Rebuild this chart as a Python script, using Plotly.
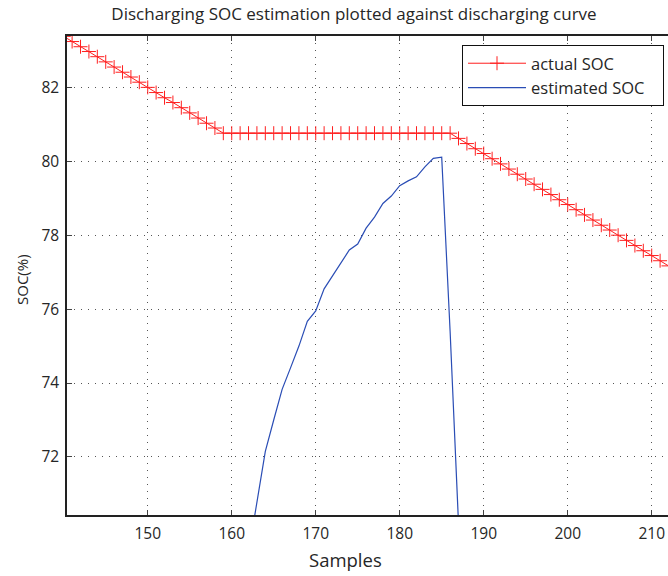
import plotly.graph_objects as go

# ---- data ----
actual_x = list(range(140, 213))
actual_soc = [
    83.38, 83.24, 83.10, 82.97, 82.83, 82.69, 82.55, 82.41, 82.28, 82.14,
    82.00, 81.86, 81.72, 81.59, 81.45, 81.31, 81.17, 81.03, 80.90, 80.76,
    80.76, 80.76, 80.76, 80.76, 80.76, 80.76, 80.76, 80.76, 80.76, 80.76,
    80.76, 80.76, 80.76, 80.76, 80.76, 80.76, 80.76, 80.76, 80.76, 80.76,
    80.76, 80.76, 80.76, 80.76, 80.76, 80.76, 80.76, 80.62, 80.48, 80.34,
    80.21, 80.07, 79.93, 79.79, 79.65, 79.52, 79.38, 79.24, 79.10, 78.96,
    78.83, 78.69, 78.55, 78.41, 78.27, 78.14, 78.00, 77.86, 77.72, 77.58,
    77.45, 77.31, 77.17,
]

est_x = [162, 163, 164, 165, 166, 167, 168, 169, 170, 171, 172, 173, 174,
         175, 176, 177, 178, 179, 180, 181, 182, 183, 184, 185, 186, 187]
est_soc = [69.40, 70.80, 72.15, 73.00, 73.83, 74.41, 75.00, 75.67, 75.95,
           76.55, 76.90, 77.25, 77.60, 77.76, 78.19, 78.49, 78.86, 79.06,
           79.34, 79.47, 79.58, 79.85, 80.08, 80.11, 75.40, 70.20]

x_ticks = [150, 160, 170, 180, 190, 200, 210]
y_ticks = [72, 74, 76, 78, 80, 82]

FONT = "Open Sans"
W, H = 668, 576
L, R, T, B = 67, 0, 36, 61
PAD = "\u00a0\u00a0\u00a0"

fig = go.Figure()
fig.add_trace(go.Scatter(
    x=actual_x, y=actual_soc, mode="lines+markers", name="actual SOC" + PAD,
    line=dict(color="#ff1f1f", width=1),
    marker=dict(symbol="cross-thin", size=10, color="#ff1f1f",
                line=dict(color="#ff1f1f", width=1)),
))
fig.add_trace(go.Scatter(
    x=est_x, y=est_soc, mode="lines", name="estimated SOC" + PAD,
    line=dict(color="#2a4db5", width=1.2),
))

axis_common = dict(
    showline=True, linecolor="#222222", linewidth=1.5,
    ticks="inside", ticklen=5, tickcolor="#444444", tickwidth=1,
    showgrid=True, gridcolor="#555555", gridwidth=1, griddash="1px,6px",
    zeroline=False, tickfont=dict(family=FONT, size=15.5, color="#262626"),
)

fig.update_xaxes(range=[140.39, 211.94], tickvals=x_ticks, mirror="ticks",
                 ticklabelstandoff=4, **axis_common)
fig.update_yaxes(range=[70.43, 83.39], tickvals=y_ticks, mirror=False,
                 ticklabelstandoff=3, **axis_common)

fig.update_layout(
    width=W, height=H,
    margin=dict(l=L, r=R, t=T, b=B, pad=0),
    paper_bgcolor="white", plot_bgcolor="white",
    font=dict(family=FONT, color="#262626"),
    title=dict(text="Discharging SOC estimation plotted against discharging curve",
               x=354 / W, xanchor="center", y=1 - 14 / H, yanchor="middle",
               font=dict(family=FONT, size=17, color="#262626")),
    legend=dict(x=(664 - L) / (W - L - R), xanchor="right",
                y=(H - B - 45) / (H - T - B), yanchor="top",
                bgcolor="white", bordercolor="#111111", borderwidth=1,
                font=dict(family=FONT, size=16.5, color="#262626"),
                itemwidth=58, tracegroupgap=0),
    showlegend=True,
    annotations=[
        dict(text="Samples", xref="paper", yref="paper",
             x=(345 - L) / (W - L - R), y=(H - B - 559) / (H - T - B),
             xanchor="center", yanchor="middle", showarrow=False,
             font=dict(family=FONT, size=18.5, color="#262626")),
        dict(text="SOC(%)", xref="paper", yref="paper",
             x=(22 - L) / (W - L - R), y=(H - B - 280) / (H - T - B),
             xanchor="center", yanchor="middle", showarrow=False, textangle=-90,
             font=dict(family=FONT, size=15, color="#262626")),
    ],
)

fig.write_html("out.html")
